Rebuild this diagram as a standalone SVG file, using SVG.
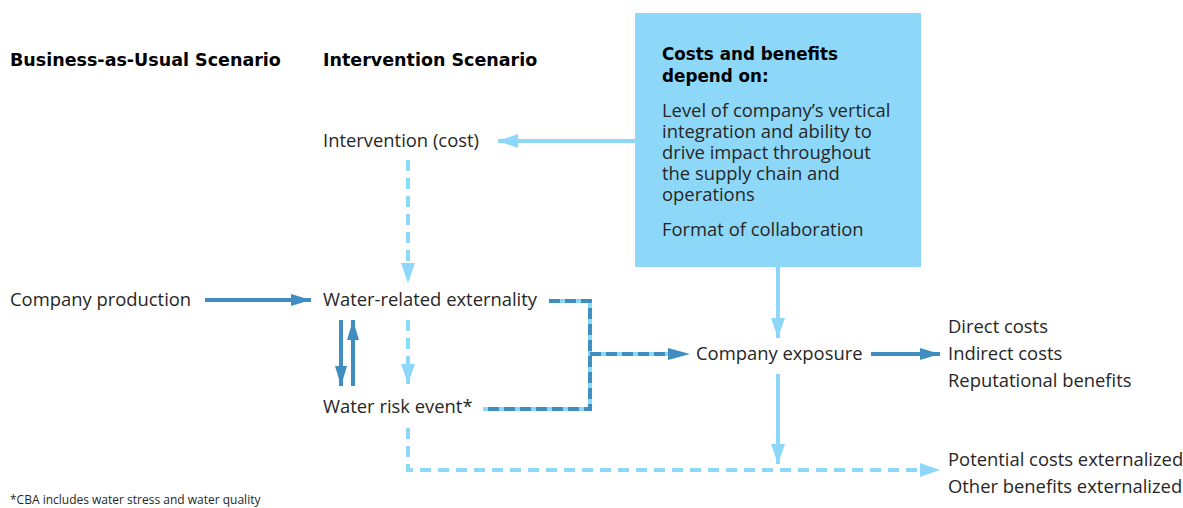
<svg xmlns="http://www.w3.org/2000/svg" width="1183" height="508" viewBox="0 0 1183 508">
  <style>
    .t { font-family: "Open Sans", "Noto Sans", sans-serif; font-size: 18.4px; fill: #262626; }
    .h { font-family: "DejaVu Sans", "Liberation Sans", sans-serif; font-weight: bold; font-size: 17.5px; fill: #000; }
    .hb { font-family: "DejaVu Sans", "Liberation Sans", sans-serif; font-weight: bold; font-size: 16.8px; fill: #000; }
    .fn { font-family: "Open Sans", "Noto Sans", sans-serif; font-size: 12px; fill: #262626; }
    .dk { stroke: #3f8dc1; stroke-width: 4; fill: none; }
    .lt { stroke: #8dd8f8; stroke-width: 4; fill: none; }
    .ltd { stroke: #8dd8f8; stroke-width: 4; fill: none; stroke-dasharray: 11 7; }
    .dkd { stroke: #3f8dc1; stroke-width: 4; fill: none; stroke-dasharray: 11 5; }
  </style>
  <defs>
    <marker id="ahDark" viewBox="0 0 20 12" refX="20" refY="6" markerWidth="20" markerHeight="12" markerUnits="userSpaceOnUse" orient="auto">
      <path d="M0,0 L20,6 L0,12 Z" fill="#3f8dc1"/>
    </marker>
    <marker id="ahLight" viewBox="0 0 20 14" refX="20" refY="7" markerWidth="20" markerHeight="14" markerUnits="userSpaceOnUse" orient="auto">
      <path d="M0,0 L20,7 L0,14 Z" fill="#8dd8f8"/>
    </marker>
  </defs>

  <rect width="1183" height="508" fill="#fff"/>

  <!-- column headings -->
  <g id="headings">
    <text class="h" x="10" y="66">Business-as-Usual Scenario</text>
    <text class="h" x="323" y="66">Intervention Scenario</text>
  </g>

  <!-- factor box -->
  <g id="factors">
    <rect x="635" y="13" width="286" height="254" fill="#8dd8f8"/>
    <text class="hb" x="662" y="60">Costs and benefits</text>
    <text class="hb" x="662" y="82">depend on:</text>
    <text class="t" x="662" y="117">Level of company’s vertical</text>
    <text class="t" x="662" y="138">integration and ability to</text>
    <text class="t" x="662" y="159">drive impact throughout</text>
    <text class="t" x="662" y="180">the supply chain and</text>
    <text class="t" x="662" y="201">operations</text>
    <text class="t" x="662" y="236">Format of collaboration</text>
  </g>

  <g id="intervention"><text class="t" x="323" y="147">Intervention (cost)</text></g>
  <g id="production"><text class="t" x="10" y="306">Company production</text></g>
  <g id="externality"><text class="t" x="323" y="306">Water-related externality</text></g>
  <g id="riskEvent"><text class="t" x="323" y="413">Water risk event*</text></g>
  <g id="exposure"><text class="t" x="696" y="360">Company exposure</text></g>
  <g id="outcomes">
    <text class="t" x="948" y="333">Direct costs</text>
    <text class="t" x="948" y="360">Indirect costs</text>
    <text class="t" x="948" y="387">Reputational benefits</text>
  </g>
  <g id="externalized">
    <text class="t" x="948" y="466">Potential costs externalized</text>
    <text class="t" x="948" y="493">Other benefits externalized</text>
  </g>
  <g id="footnote"><text class="fn" x="10" y="504">*CBA includes water stress and water quality</text></g>

  <g id="connectors">
    <!-- box to intervention -->
    <line class="lt" x1="635" y1="141" x2="498" y2="141" marker-end="url(#ahLight)"/>
    <!-- intervention to externality -->
    <line class="ltd" x1="408" y1="160" x2="408" y2="283" marker-end="url(#ahLight)"/>
    <!-- production to externality -->
    <line class="dk" x1="205" y1="300" x2="311" y2="300" marker-end="url(#ahDark)"/>
    <!-- externality <-> risk event -->
    <line class="dk" x1="341" y1="320" x2="341" y2="386" marker-end="url(#ahDark)"/>
    <line class="dk" x1="353" y1="386" x2="353" y2="320" marker-end="url(#ahDark)"/>
    <line class="ltd" x1="408" y1="320" x2="408" y2="384" marker-end="url(#ahLight)"/>
    <!-- bracket to company exposure -->
    <path class="lt" d="M549,301 H590 V409 H483 M590,354 H670"/>
    <path class="dkd" d="M549,301 H590 V409 H483"/>
    <path class="dkd" d="M590,354 H670"/>
    <path d="M668,348 L690,354 L668,360 Z" fill="#3f8dc1"/>
    <!-- box to exposure -->
    <line class="lt" x1="778" y1="267" x2="778" y2="338" marker-end="url(#ahLight)"/>
    <!-- exposure to outcomes -->
    <line class="dk" x1="871" y1="354" x2="940" y2="354" marker-end="url(#ahDark)"/>
    <!-- exposure to externalized -->
    <line class="lt" x1="778" y1="374" x2="778" y2="464" marker-end="url(#ahLight)"/>
    <!-- risk event to externalized -->
    <path class="ltd" d="M408,428 V470 H921"/>
    <path d="M920,463 L940,470 L920,477 Z" fill="#8dd8f8"/>
  </g>
</svg>
